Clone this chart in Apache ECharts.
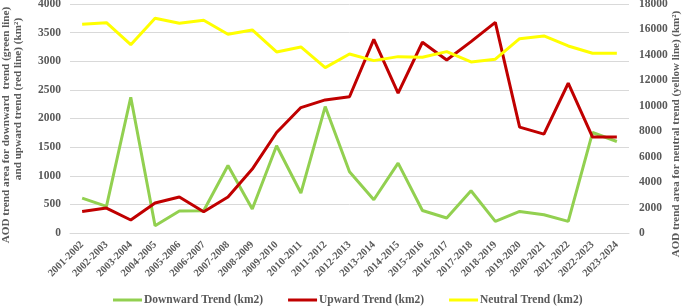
<!DOCTYPE html>
<html><head><meta charset="utf-8">
<script src="https://cdn.jsdelivr.net/npm/echarts@6/dist/echarts.min.js"></script>
<style>html,body{margin:0;padding:0;background:#fff}#c{width:685px;height:307px}</style>
</head><body><div id="c"></div>
<script>
const categories = ['2001-2002','2002-2003','2003-2004','2004-2005','2005-2006','2006-2007','2007-2008','2008-2009','2009-2010','2010-2011','2011-2012','2012-2013','2013-2014','2014-2015','2015-2016','2016-2017','2017-2018','2018-2019','2019-2020','2020-2021','2021-2022','2022-2023','2023-2024'];
const downward = [610,464,2372,127,384,390,1180,418,1523,698,2209,1070,581,1221,394,262,738,203,377,319,203,1755,1598];
const upward = [377,436,227,523,628,372,628,1116,1755,2191,2325,2380,3382,2442,3332,3023,3342,3680,1849,1727,2616,1675,1675];
const neutral = [16406,16532,14805,16877,16485,16720,15621,15959,14232,14624,13000,14075,13549,13863,13816,14256,13447,13659,15276,15488,14703,14130,14130];
const leftTicks = {min:0,max:4000,interval:500};
const rightTicks = {min:0,max:18000,interval:2000};
const leftTitle1 = 'AOD trend area for downward  trend (green line)';
const leftTitle2 = 'and upward trend (red line) (km²)';
const rightTitle = 'AOD trend area for neutral trend (yellow line) (km²)';

const font = 'Liberation Serif';
const grey = '#595959';
const titleStyle = (text,size)=>({text, font:'bold '+size+'px "Liberation Serif"', fill:grey, textAlign:'center', textVerticalAlign:'middle'});
const chart = echarts.init(document.getElementById('c'));
chart.setOption({
  animation:false,
  grid:{left:70,right:56,top:4,bottom:74,containLabel:false,outerBoundsMode:'none'},
  legend:{
    top:294,left:113,padding:0,itemWidth:29,itemHeight:3,itemGap:25,
    icon:'rect',
    textStyle:{fontFamily:font,fontWeight:'bold',fontSize:11.5,color:grey,padding:[0,0,0,-3]},
    data:['Downward Trend (km2)','Upward Trend (km2)','Neutral Trend (km2)']
  },
  graphic:[
    {type:'text',x:6,y:125,rotation:Math.PI/2,style:titleStyle(leftTitle1,11.2)},
    {type:'text',x:18,y:99,rotation:Math.PI/2,style:titleStyle(leftTitle2,11.2)},
    {type:'text',x:676,y:134,rotation:Math.PI/2,style:titleStyle(rightTitle,11)}
  ],
  xAxis:{
    type:'category',data:categories,boundaryGap:true,
    axisLine:{lineStyle:{color:'#d9d9d9'}},
    axisTick:{show:false},
    axisLabel:{rotate:45,interval:0,margin:10,fontFamily:font,fontWeight:'bold',fontSize:10.5,color:grey}
  },
  yAxis:[{
    type:'value',...leftTicks,
    axisLine:{show:false},axisTick:{show:false},
    axisLabel:{margin:9,fontFamily:font,fontWeight:'bold',fontSize:11.5,color:grey,formatter:v=>String(v)},
    splitLine:{lineStyle:{color:'#d9d9d9',width:1}}
  },{
    type:'value',...rightTicks,position:'right',alignTicks:false,
    axisLine:{show:false},axisTick:{show:false},
    axisLabel:{margin:10,fontFamily:font,fontWeight:'bold',fontSize:11.5,color:grey,formatter:v=>String(v)},
    splitLine:{show:false}
  }],
  series:[
    {name:'Downward Trend (km2)',type:'line',data:downward,yAxisIndex:0,symbol:'none',lineStyle:{width:3,color:'#92D050'},itemStyle:{color:'#92D050'}},
    {name:'Upward Trend (km2)',type:'line',data:upward,yAxisIndex:0,symbol:'none',lineStyle:{width:3,color:'#C00000'},itemStyle:{color:'#C00000'}},
    {name:'Neutral Trend (km2)',type:'line',data:neutral,yAxisIndex:1,symbol:'none',lineStyle:{width:3,color:'#FFFF00'},itemStyle:{color:'#FFFF00'}}
  ]
});
</script></body></html>
